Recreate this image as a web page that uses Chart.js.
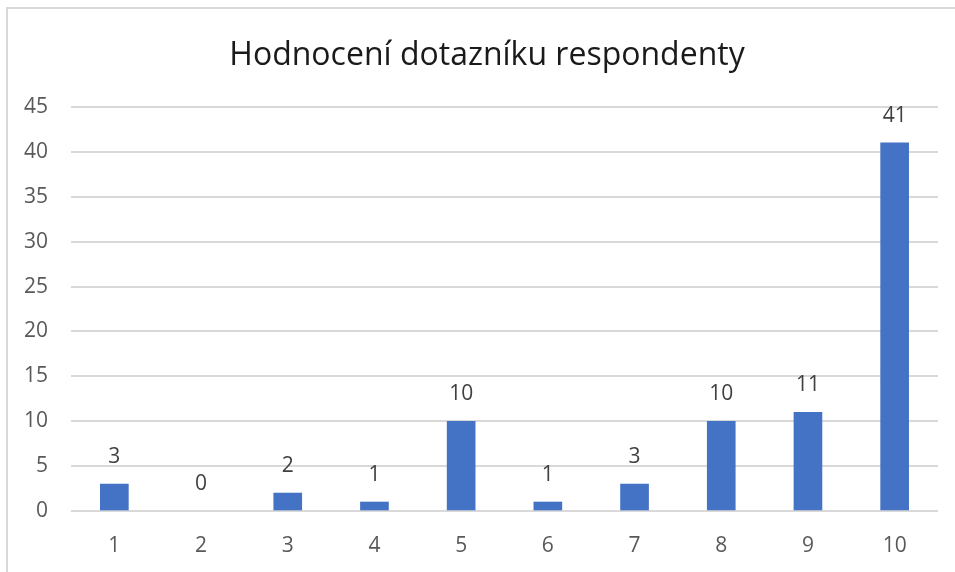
<!DOCTYPE html>
<html>
<head>
<meta charset="utf-8">
<script src="https://cdn.jsdelivr.net/npm/chart.js@4"></script>
<style>
  body { margin: 0; background: #fff; }
  #wrap { position: relative; width: 955px; height: 572px; overflow: hidden; }
  #frame { position: absolute; left: 6px; top: 7px; width: 1000px; height: 700px; border: 2px solid #d9d9d9; box-sizing: border-box; }
  canvas { position: absolute; left: 0; top: 0; }
</style>
</head>
<body>
<div id="wrap">
  <div id="frame"></div>
  <canvas id="myCanvas" width="955" height="572"></canvas>
</div>
<script>
var nadpis = 'Hodnocení dotazníku respondenty';
var hodnoceni = ['1', '2', '3', '4', '5', '6', '7', '8', '9', '10'];
var pocet = [3, 0, 2, 1, 10, 1, 3, 10, 11, 41];
var osaY = [0, 5, 10, 15, 20, 25, 30, 35, 40, 45];

// nadpis a popisky hodnot nad sloupci
var popisky = {
    id: 'popisky',
    afterDatasetsDraw: function(chart) {
        var ctx = chart.ctx;
        var meta = chart.getDatasetMeta(0);
        ctx.save();
        ctx.textAlign = 'center';
        ctx.textBaseline = 'middle';
        ctx.fillStyle = '#1a1a1a';
        ctx.font = '32px "Open Sans"';
        ctx.fillText(nadpis, 487, 56);
        ctx.fillStyle = '#404040';
        ctx.font = '21px "Open Sans"';
        for (var i = 0; i < meta.data.length; i++) {
            var bar = meta.data[i];
            ctx.fillText(pocet[i], bar.x, bar.y - 27);
        }
        ctx.restore();
    }
};

var ctx = document.getElementById('myCanvas').getContext('2d');
var chart = new Chart(ctx, {
    type: 'bar',
    data: {
        labels: hodnoceni,
        datasets: [{
            data: pocet,
            backgroundColor: function(c) {
                return c.raw === 0 ? 'rgba(0,0,0,0)' : '#4472C4';
            },
            barThickness: 28
        }]
    },
    options: {
        responsive: false,
        animation: false,
        layout: { padding: { left: 0, right: 17, top: 107, bottom: 8 } },
        plugins: {
            legend: { display: false },
            tooltip: { enabled: false },
            title: { display: false }
        },
        scales: {
            x: {
                grid: { display: false, drawTicks: false },
                border: { display: false },
                ticks: { color: '#595959', font: { family: 'Open Sans', size: 21 }, padding: 22 },
                afterFit: function(scale) { scale.height = 53; }
            },
            y: {
                min: 0,
                max: 45,
                afterBuildTicks: function(scale) {
                    scale.ticks = osaY.map(function(v) { return { value: v }; });
                },
                grid: { color: '#d9d9d9', lineWidth: 2, drawTicks: false },
                border: { display: false },
                ticks: { color: '#595959', font: { family: 'Open Sans', size: 21 }, padding: 23 },
                afterFit: function(scale) { scale.width = 71; }
            }
        }
    },
    plugins: [popisky]
});
</script>
</body>
</html>
